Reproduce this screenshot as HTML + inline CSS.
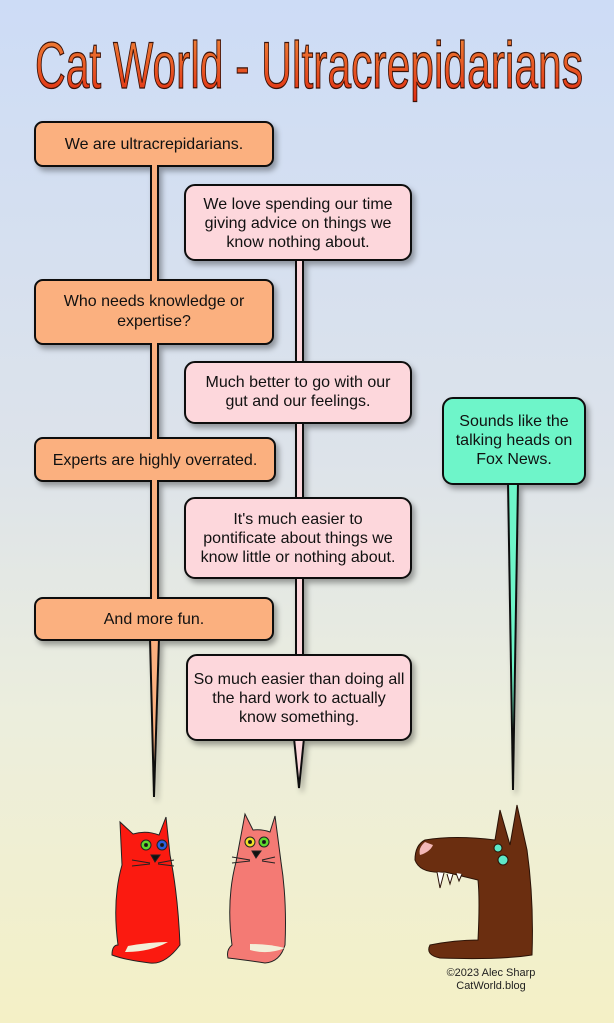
<!DOCTYPE html>
<html><head><meta charset="utf-8"><style>
html,body{margin:0;padding:0;}
body{width:614px;height:1023px;overflow:hidden;background:linear-gradient(180deg,#cddcf6 0%,#dde3ea 45%,#eceedd 70%,#f4f0c6 100%);}
svg{display:block;}
text{font-family:"Liberation Sans",sans-serif;}
</style></head><body>
<svg width="614" height="1023" viewBox="0 0 614 1023" xmlns="http://www.w3.org/2000/svg">
<defs>
<linearGradient id="tg" x1="0" y1="0" x2="0" y2="1"><stop offset="0" stop-color="#f08a3a"/><stop offset="1" stop-color="#e02a10"/></linearGradient>
<filter id="sh" x="-10%" y="-10%" width="130%" height="140%"><feDropShadow dx="3" dy="4" stdDeviation="3" flood-color="#000" flood-opacity="0.35"/></filter>
</defs>
<text x="35" y="88" font-size="66" textLength="548" lengthAdjust="spacingAndGlyphs" fill="url(#tg)" stroke="#3a1208" stroke-width="1.3">Cat World - Ultracrepidarians</text>

<g stroke="#111" stroke-width="2" filter="url(#sh)">
<path d="M151,164 L158,164 L158,282 L151,282Z" fill="#fbb07f"/>
<path d="M151,342 L158,342 L158,440 L151,440Z" fill="#fbb07f"/>
<path d="M151,479 L158,479 L158,600 L151,600Z" fill="#fbb07f"/>
<path d="M150,638 L159,638 L154,797Z" fill="#fbb07f"/>
<path d="M296,258 L303,258 L303,364 L296,364Z" fill="#fdd7dc"/>
<path d="M296,421 L303,421 L303,500 L296,500Z" fill="#fdd7dc"/>
<path d="M296,576 L303,576 L303,657 L296,657Z" fill="#fdd7dc"/>
<path d="M294,738 L304,738 L299,788Z" fill="#fdd7dc"/>
<path d="M508,482 L518,482 L513,790Z" fill="#6ef5c9"/>
<rect x="35" y="122" width="238" height="44" rx="8" fill="#fbb07f"/>
<rect x="35" y="280" width="238" height="64" rx="8" fill="#fbb07f"/>
<rect x="35" y="438" width="240" height="43" rx="8" fill="#fbb07f"/>
<rect x="35" y="598" width="238" height="42" rx="8" fill="#fbb07f"/>
<rect x="185" y="185" width="226" height="75" rx="10" fill="#fdd7dc"/>
<rect x="185" y="362" width="226" height="61" rx="10" fill="#fdd7dc"/>
<rect x="185" y="498" width="226" height="80" rx="10" fill="#fdd7dc"/>
<rect x="187" y="655" width="224" height="85" rx="10" fill="#fdd7dc"/>
<rect x="443" y="398" width="142" height="86" rx="10" fill="#6ef5c9"/>
</g>
<g fill="#fbb07f"><rect x="152" y="163" width="5" height="5"/><rect x="152" y="278" width="5" height="4"/><rect x="152" y="341" width="5" height="5"/><rect x="152" y="436" width="5" height="4"/><rect x="152" y="478" width="5" height="5"/><rect x="152" y="596" width="5" height="4"/></g>

<g font-size="16" fill="#111" text-anchor="middle">
<text x="154" y="149">We are ultracrepidarians.</text>
<text x="154" y="306">Who needs knowledge or</text>
<text x="154" y="326">expertise?</text>
<text x="155" y="465">Experts are highly overrated.</text>
<text x="154" y="624">And more fun.</text>
<text x="298" y="209">We love spending our time</text>
<text x="298" y="228">giving advice on things we</text>
<text x="298" y="247">know nothing about.</text>
<text x="298" y="387">Much better to go with our</text>
<text x="298" y="406">gut and our feelings.</text>
<text x="298" y="524">It's much easier to</text>
<text x="298" y="543">pontificate about things we</text>
<text x="298" y="562">know little or nothing about.</text>
<text x="299" y="684">So much easier than doing all</text>
<text x="299" y="703">the hard work to actually</text>
<text x="299" y="722">know something.</text>
<text x="514" y="426">Sounds like the</text>
<text x="514" y="445">talking heads on</text>
<text x="514" y="464">Fox News.</text>
</g>

<g stroke="#222" stroke-width="1">
<path d="M118,945 Q112,900 122,865 L120,822 L133,834 Q146,830 159,835 L166,817 L170,855 Q178,895 180,945 Q165,965 150,963 Q125,960 112,955 Q112,945 118,945Z" fill="#fb1a10"/>
<path d="M128,946 Q150,942 168,942 Q150,952 125,952Z" fill="#f3efd8" stroke="none"/>
<circle cx="146" cy="845" r="5" fill="#5fd82c"/><circle cx="162" cy="845" r="5" fill="#2a5ee0"/>
<circle cx="146" cy="845" r="1.5" fill="#111"/><circle cx="162" cy="845" r="1.5" fill="#111"/>
<path d="M151,855 L160,855 L155,862Z" fill="#111"/>
<path d="M132,860 L150,863 M132,866 L150,864 M158,863 L174,860 M158,864 L174,866" fill="none"/>
</g>
<g stroke="#222" stroke-width="1">
<path d="M232,945 Q226,900 236,862 L245,814 L253,830 Q262,829 270,832 L275,816 L281,862 Q287,900 285,945 Q280,962 265,963 Q245,960 228,958 Q226,950 232,945Z" fill="#f47a74"/>
<path d="M250,944 Q268,944 285,948 Q268,955 250,950Z" fill="#f3efd8" stroke="none"/>
<circle cx="250" cy="842" r="5" fill="#f0e028"/><circle cx="264" cy="842" r="5" fill="#5fd82c"/>
<circle cx="250" cy="842" r="1.5" fill="#111"/><circle cx="264" cy="842" r="1.5" fill="#111"/>
<path d="M252,851 L261,851 L256,858Z" fill="#111"/>
<path d="M232,857 L250,860 M232,863 L250,861 M262,860 L275,857 M262,861 L275,863" fill="none"/>
</g>
<g stroke="#2a1206" stroke-width="1">
<path d="M500,810 L510,845 L517,805 L527,850 Q534,900 532,955 Q500,960 440,958 Q425,955 430,945 Q455,940 478,940 Q480,900 478,880 L445,872 Q420,874 415,860 Q415,845 425,840 Q455,835 495,840Z" fill="#6b2e10"/>
<path d="M425,842 Q418,848 420,855 Q430,852 433,845Z" fill="#f3b8b8" stroke="none"/>
<path d="M437,872 L440,888 L444,873 M447,874 L450,884 L453,874 M456,873 L459,881 L462,874" fill="#fff"/>
<circle cx="498" cy="848" r="4" fill="#5ee8c8"/><circle cx="503" cy="860" r="5" fill="#5ee8c8"/>
</g>
<g font-size="11" fill="#222" text-anchor="middle">
<text x="491" y="976">©2023 Alec Sharp</text>
<text x="491" y="989">CatWorld.blog</text>
</g>
</svg>
</body></html>
